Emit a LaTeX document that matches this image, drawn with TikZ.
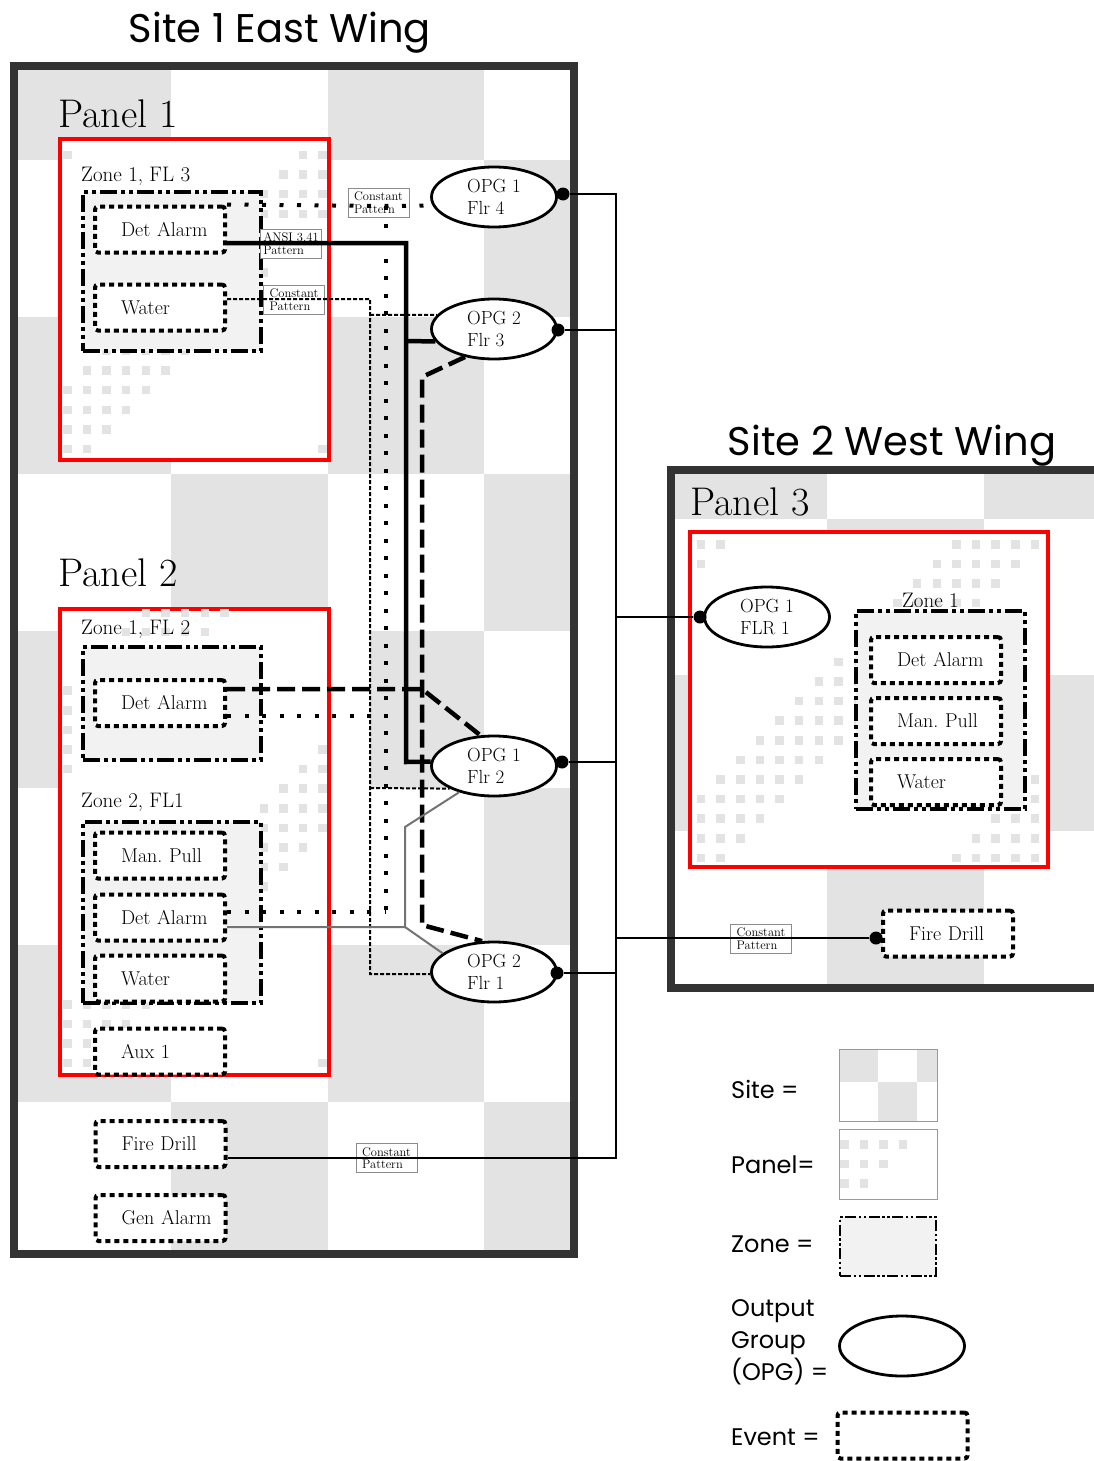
\documentclass[tikz,border=0pt]{standalone}
\usepackage{fontspec}
\usepackage{xcolor}
\usetikzlibrary{positioning, shapes.geometric}
\newfontfamily\gothic{Poppins}
\definecolor{chk}{RGB}{227,227,227}
\definecolor{zonefill}{RGB}{242,242,242}
\definecolor{sitegray}{RGB}{51,51,51}
\newcommand{\paneldots}[5]{%
  \foreach \cc in {0,...,#3}{%
    \foreach \rr in {0,...,#4}{%
      \pgfmathtruncatemacro{\band}{mod(\cc+\rr+#5,16)}%
      \ifnum\band<5 \fill[chk] ({#1+19.65*\cc},{#2+19.6*\rr}) rectangle ++(8.5,8.5);\fi
    }}}

\begin{document}
\begin{tikzpicture}[x=1pt, y=-1pt, node distance=11pt, every node/.style={font=\fontsize{20}{23}\selectfont}]
        \tikzstyle{site} = [rectangle, draw=sitegray, line width=8.5pt]
        \tikzstyle{panel} = [rectangle, draw=red, fill=white, line width=4pt]
        \tikzstyle{zone} = [rectangle, draw=black, fill=zonefill, line width=4pt, dash pattern=on 17pt off 4pt on 4pt off 4pt on 4pt off 4pt]
        \tikzstyle{event} = [rectangle, draw=black, fill=white, line width=4pt, dash pattern=on 5pt off 4pt, rounded corners=3pt, minimum height=46pt, text width=122pt, inner xsep=4pt, align=left, execute at begin node={\noindent\hspace*{22pt}}]
        \tikzstyle{opg} = [ellipse, draw=black, fill=white, line width=2.8pt, minimum width=125pt, minimum height=60pt, inner sep=0pt, align=left, font=\fontsize{19}{22}\selectfont]
        \tikzstyle{opgdot} = [circle, fill=black, inner sep=0pt, minimum size=13pt]
        \tikzstyle{tag} = [rectangle, draw=black!45, fill=white, line width=0.8pt, minimum width=61pt, minimum height=29pt, inner sep=1pt, align=left, font=\fontsize{12.5}{12.5}\selectfont]
        \tikzstyle{zonelabel} = [inner sep=0pt, font=\fontsize{21}{23}\selectfont]
        \tikzstyle{panellabel} = [inner sep=0pt, font=\fontsize{40}{44}\selectfont]
        \tikzstyle{sitetitle} = [inner sep=0pt, anchor=base, font=\gothic\fontsize{40}{44}\selectfont]
        \tikzstyle{legendtext} = [inner sep=0pt, align=left, font=\gothic\fontsize{24}{32}\selectfont]
        \tikzstyle{legbox} = [rectangle, draw=black!40, line width=1pt, minimum width=98pt]
        \tikzstyle{wire} = [line width=2pt]
        \tikzstyle{dotline} = [line width=4pt, dash pattern=on 4pt off 13.5pt]
        \tikzstyle{boldline} = [line width=4.5pt]
        \tikzstyle{longdash} = [line width=4.5pt, dash pattern=on 18pt off 7pt]
        \tikzstyle{shortdash} = [line width=2pt, dash pattern=on 4pt off 2pt]
        \tikzstyle{grayline} = [line width=2pt, draw=black!55]

        \useasboundingbox (0,0) rectangle (1094,1461);
        \begin{scope}
        \clip (0,0) rectangle (1094,1461);

        \node[sitetitle] (title1) at (280,43) {Site 1 East Wing};
        \node[sitetitle] (title2) at (892,455) {Site 2 West Wing};

        \begin{scope}
            \clip (18,70) rectangle (570,1250);
            \foreach \i in {0,...,3}
                \foreach \j in {0,...,8}{
                    \pgfmathtruncatemacro{\odd}{mod(\i+\j,2)}
                    \ifnum\odd=0 \fill[chk] ({14.5+156.5*\i},{3+157*\j}) rectangle ++(156.5,157);\fi
                }
            \fill[white] (331,631) rectangle (370,788);
        \end{scope}
        \begin{scope}
            \clip (675,474) rectangle (1094,984);
            \foreach \i in {0,...,2}
                \foreach \j in {0,...,3}{
                    \pgfmathtruncatemacro{\odd}{mod(\i+\j,2)}
                    \ifnum\odd=0 \fill[chk] ({670.5+156.5*\i},{362.6+156*\j}) rectangle ++(156.5,156);\fi
                }
        \end{scope}
        \node[site, minimum width=560pt, minimum height=1188pt] (site1) at (294,660) {};
        \node[site, minimum width=449pt, minimum height=518pt] (site2) at (895.5,729) {};

        \node[panel, minimum width=269pt, minimum height=321pt] (panel1) at (194.5,299.5) {};
        \node[panel, minimum width=269pt, minimum height=466pt] (panel2) at (194.5,842) {};
        \node[panel, minimum width=358pt, minimum height=335pt] (panel3) at (869,699.5) {};
        \begin{scope}
            \clip ([shift={(2,2)}]panel1.north west) rectangle ([shift={(-2,-2)}]panel1.south east);
            \paneldots{63}{150.7}{13}{15}{4}
        \end{scope}
        \begin{scope}
            \clip ([shift={(2,2)}]panel2.north west) rectangle ([shift={(-2,-2)}]panel2.south east);
            \paneldots{63}{608}{13}{23}{12}
        \end{scope}
        \begin{scope}
            \clip ([shift={(2,2)}]panel3.north west) rectangle ([shift={(-2,-2)}]panel3.south east);
            \paneldots{696.7}{540}{18}{16}{3}
        \end{scope}
        \node[panellabel, above right=9pt and 0pt of panel1.north west] (panel1lbl) {Panel 1};
        \node[panellabel, above right=20pt and 0pt of panel2.north west] (panel2lbl) {Panel 2};
        \node[panellabel, above right=14pt and 2pt of panel3.north west] (panel3lbl) {Panel 3};

        \node[zone, minimum width=178pt, minimum height=159pt] (zone1) at (172,271.5) {};
        \node[zone, minimum width=178pt, minimum height=113pt] (zone2) at (172,703.5) {};
        \node[zone, minimum width=178pt, minimum height=181pt] (zone3) at (172,912.5) {};
        \node[zone, minimum width=169pt, minimum height=198pt] (zone4) at (940.5,710) {};
        \node[zonelabel, above right=4pt and 0pt of zone1.north west] (zone1lbl) {Zone 1, FL 3};
        \node[zonelabel, above right=6pt and 0pt of zone2.north west] (zone2lbl) {Zone 1, FL 2};
        \node[zonelabel, above right=8pt and 0pt of zone3.north west] (zone3lbl) {Zone 2, FL1};
        \node[zonelabel, above=1pt of zone4.north, xshift=-10pt] (zone4lbl) {Zone 1};

        \node[event] (det1) at (160,229.5) {Det Alarm};
        \node[event, below=28pt of det1] (water1) {Water};
        \node[event] (det2) at (160,703) {Det Alarm};
        \node[event] (pull2) at (160,855.5) {Man.\ Pull};
        \node[event, below=12pt of pull2] (det3) {Det Alarm};
        \node[event, below=11pt of det3] (water2) {Water};
        \node[event, below=23pt of water2] (aux2) {Aux 1};
        \node[event] (fire1) at (160.5,1144) {Fire Drill};
        \node[event, below=24pt of fire1] (gen1) {Gen Alarm};
        \node[event] (det4) at (936,660) {Det Alarm};
        \node[event, below=11pt of det4] (pull4) {Man.\ Pull};
        \node[event, below=11pt of pull4] (water4) {Water};
        \node[event] (fire2) at (948,933.5) {Fire Drill};

        \node[tag] (tag1) at (378.5,202.5) {Constant\\Pattern};
        \node[tag] (tag2) at (291,243.5) {ANSI 3.41\\Pattern};
        \node[tag] (tag3) at (294,299.5) {Constant\\Pattern};
        \node[tag] (tag4) at (386.5,1158) {Constant\\Pattern};
        \node[tag] (tag5) at (761,938.5) {Constant\\Pattern};

        \node[opg] (opg14) at (494,197) {OPG 1\\Flr 4};
        \node[opg] (opg23) at (494,329) {OPG 2\\Flr 3};
        \node[opg] (opg12) at (494,766) {OPG 1\\Flr 2};
        \node[opg] (opg21) at (494,972) {OPG 2\\Flr 1};
        \node[opg] (opg31) at (767,617) {OPG 1\\FLR 1};
        \node[opgdot] (dot14) at (563,194) {};
        \node[opgdot] (dot23) at (558,330) {};
        \node[opgdot] (dot12) at (562,762) {};
        \node[opgdot] (dot21) at (557,973) {};
        \node[opgdot] (dot31) at (700,617) {};
        \node[opgdot] (dotfire2) at (876,938) {};

        \coordinate (dj1) at (386,206);
        \coordinate (dj2) at (386,716);
        \coordinate (dj3) at (386,912);
        \draw[dotline] (det1.north east) -- (dj1) -- (opg14.188);
        \draw[dotline] (dj1) -- (dj3);
        \draw[dotline] (det2.east |- dj2) -- (dj2);
        \draw[dotline] (det3.east |- dj3) -- (dj3);

        \coordinate (sj1) at (406,243);
        \coordinate (sj2) at (406,341);
        \coordinate (sj3) at (406,762);
        \draw[boldline] (det1.east |- sj1) -- (sj1) -- (sj3) -- (opg12.176);
        \draw[boldline] (sj2) -- (opg23.192);

        \coordinate (wj1) at (370,299);
        \coordinate (wj2) at (370,315);
        \coordinate (wj3) at (370,788);
        \coordinate (wj4) at (370,974);
        \draw[shortdash] (water1.east |- wj1) -- (wj1) -- (wj4) -- (opg21.182);
        \draw[shortdash] (wj2) -- (opg23.166);
        \draw[shortdash] (wj3) -- (opg12.207);

        \coordinate (lj0) at (422,377);
        \coordinate (lj1) at (422,689);
        \coordinate (lj2) at (422,925);
        \draw[longdash] (det2.east |- lj1) -- (lj1) -- (opg12.114);
        \draw[longdash] (opg23.224) -- (lj0) -- (lj2) -- (opg21.111);

        \coordinate (gj1) at (405,927);
        \coordinate (gj2) at (405,827);
        \draw[grayline] (det3.east |- gj1) -- (gj1) -- (gj2) -- (opg12.217);
        \draw[grayline] (gj1) -- (opg21.160);

        \coordinate (bustop) at (616,194);
        \coordinate (busbot) at (616,1158);
        \draw[wire] (dot14) -- (bustop) -- (busbot) -- (fire1.east |- busbot);
        \draw[wire] (dot23) -- (dot23 -| bustop);
        \draw[wire] (dot12) -- (dot12 -| bustop);
        \draw[wire] (dot21) -- (dot21 -| bustop);
        \draw[wire] (dot31) -- (dot31 -| bustop);
        \draw[wire] (dotfire2) -- (dotfire2 -| bustop);

        \fill[chk] (839,1049) rectangle (878,1082);
        \fill[chk] (917,1049) rectangle (937,1082);
        \fill[chk] (878,1082) rectangle (917,1121);
        \begin{scope}
            \clip (839,1129) rectangle (937,1199);
            \paneldots{840}{1140}{4}{2}{1}
        \end{scope}
        \node[legbox, minimum height=72pt] (legsite) at (888,1085) {};
        \node[legbox, minimum height=70pt] (legpanel) at (888,1164) {};
        \node[zone, line width=2.5pt, dash pattern=on 11pt off 2.5pt on 2.5pt off 2.5pt on 2.5pt off 2.5pt, minimum width=96pt, minimum height=59pt] (legzone) at (888,1246.5) {};
        \node[opg] (legopg) at (902,1346) {};
        \node[event] (legevent) at (902.5,1435.5) {};
        \node[legendtext, anchor=base west] (legsitetxt) at (731,1098) {Site =};
        \node[legendtext, anchor=base west] (legpaneltxt) at (731,1173) {Panel=};
        \node[legendtext, anchor=base west] (legzonetxt) at (731,1252) {Zone =};
        \node[legendtext, anchor=north west] (legopgtxt) at (731,1299) {Output\\Group\\(OPG) =};
        \node[legendtext, anchor=base west] (legeventtxt) at (731,1445) {Event =};
        \end{scope}
    \end{tikzpicture}
\end{document}
